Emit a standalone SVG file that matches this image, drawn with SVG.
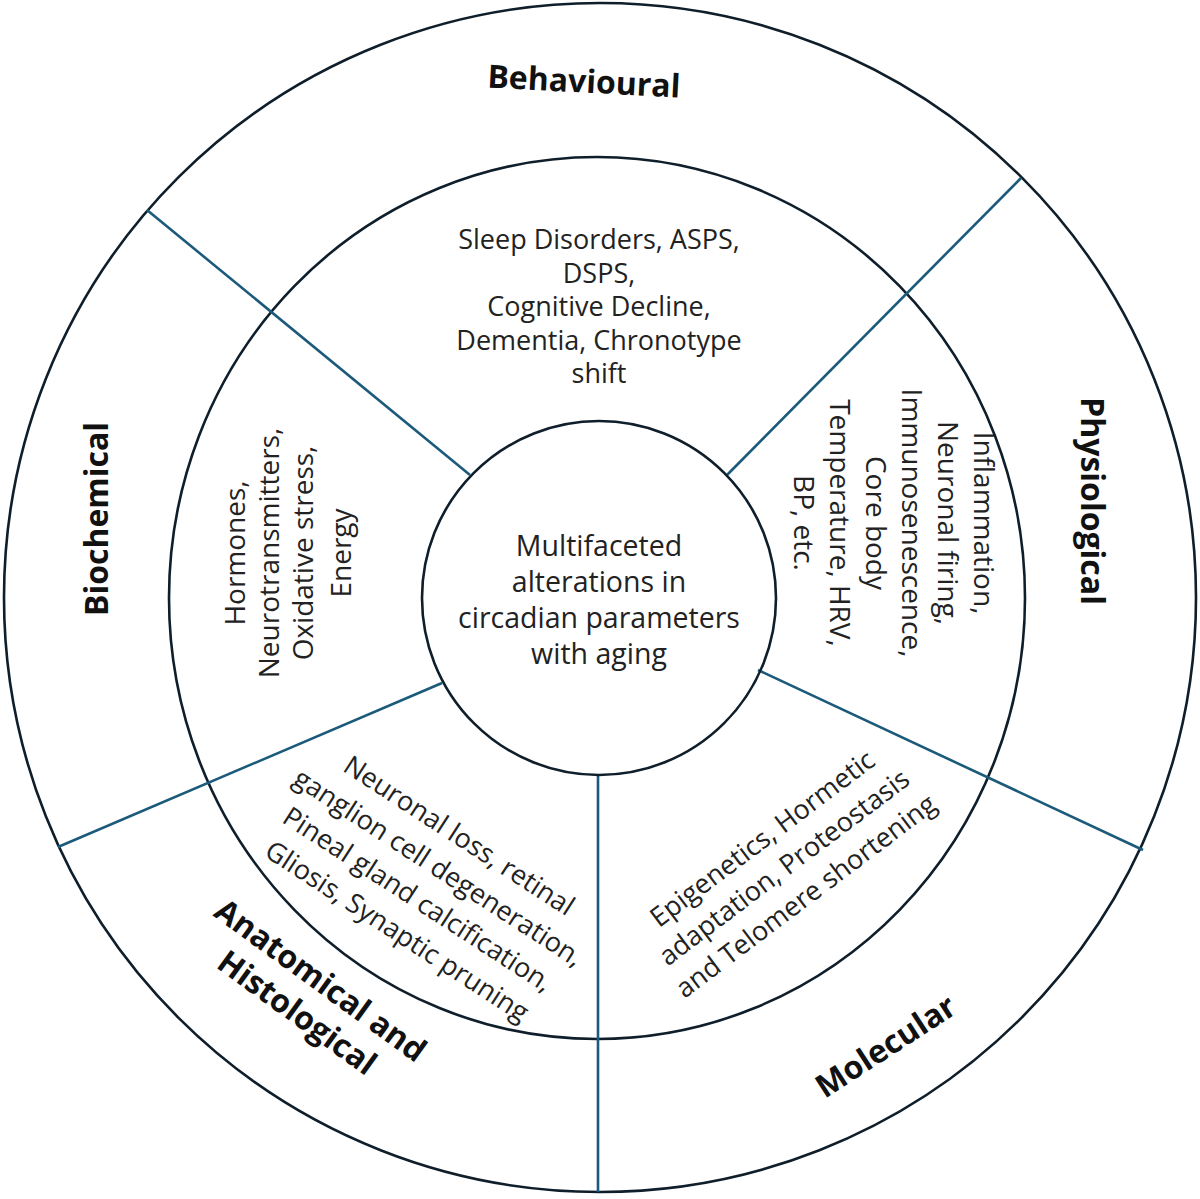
<svg xmlns="http://www.w3.org/2000/svg" width="1200" height="1199" viewBox="0 0 1200 1199">
<style>
.ring{fill:none;stroke:#0f1e2b;stroke-width:2.6}
.div{stroke:#1b5a7a;stroke-width:2.6;fill:none}
.lbl{font-family:"Open Sans","Liberation Sans",sans-serif;font-weight:bold;font-size:32px;fill:#111;text-anchor:middle;dominant-baseline:central}
.txt{font-family:"Open Sans","Liberation Sans",sans-serif;font-size:27px;fill:#222;text-anchor:middle;dominant-baseline:central}
.big{font-size:28px}
.ctr{font-family:"Open Sans","Liberation Sans",sans-serif;font-size:28.5px;fill:#222;text-anchor:middle;dominant-baseline:central}
</style>
<rect width="1200" height="1199" fill="#fff"/>
<g id="rings">
<ellipse class="ring" cx="600" cy="597.5" rx="596" ry="594.5"/>
<ellipse class="ring" cx="597" cy="598" rx="428" ry="441"/>
</g>
<g id="connectors">
<line class="div" x1="147" y1="210" x2="470" y2="475"/>
<line class="div" x1="1021" y1="178" x2="727" y2="475"/>
<line class="div" x1="1143" y1="850" x2="758" y2="670"/>
<line class="div" x1="598" y1="775" x2="598" y2="1192"/>
<line class="div" x1="58" y1="847" x2="442" y2="683"/>
</g>
<g id="center">
<circle class="ring" cx="599" cy="598" r="177" fill="#fff"/>
<text class="ctr"><tspan x="599" y="545">Multifaceted</tspan><tspan x="599" y="581">alterations in</tspan><tspan x="599" y="617">circadian parameters</tspan><tspan x="599" y="653">with aging</tspan></text>
</g>
<g id="behavioural">
<text class="lbl" transform="translate(584,80) rotate(3)">Behavioural</text>
<text class="txt"><tspan x="599" y="238">Sleep Disorders, ASPS,</tspan><tspan x="599" y="271.5">DSPS,</tspan><tspan x="599" y="305">Cognitive Decline,</tspan><tspan x="599" y="338.5">Dementia, Chronotype</tspan><tspan x="599" y="372">shift</tspan></text>
</g>
<g id="physiological">
<text class="lbl" transform="translate(1093,501) rotate(90)">Physiological</text>
<text class="txt big" transform="translate(895,523) rotate(90)"><tspan x="0" y="-90">Inflammation,</tspan><tspan x="0" y="-54">Neuronal firing,</tspan><tspan x="0" y="-18">Immunosenescence,</tspan><tspan x="0" y="18">Core body</tspan><tspan x="0" y="54">Temperature, HRV,</tspan><tspan x="0" y="90">BP, etc.</tspan></text>
</g>
<g id="molecular">
<text class="lbl" transform="translate(885,1045) rotate(-33)">Molecular</text>
<text class="txt" transform="translate(783,866) rotate(-37)"><tspan x="0" y="-36">Epigenetics, Hormetic</tspan><tspan x="0" y="0">adaptation, Proteostasis</tspan><tspan x="0" y="36">and Telomere shortening</tspan></text>
</g>
<g id="anatomical">
<text class="lbl" transform="translate(310,995) rotate(36)"><tspan x="0" y="-20">Anatomical and</tspan><tspan x="0" y="20">Histological</tspan></text>
<text class="txt" transform="translate(429,882) rotate(33)"><tspan x="0" y="-57">Neuronal  loss, retinal</tspan><tspan x="0" y="-19">ganglion cell degeneration,</tspan><tspan x="0" y="19">Pineal gland calcification,</tspan><tspan x="0" y="57">Gliosis, Synaptic pruning</tspan></text>
</g>
<g id="biochemical">
<text class="lbl" transform="translate(95,519) rotate(-90)">Biochemical</text>
<text class="txt big" transform="translate(288,553) rotate(-90)"><tspan x="0" y="-54">Hormones,</tspan><tspan x="0" y="-20">Neurotransmitters,</tspan><tspan x="0" y="14">Oxidative stress,</tspan><tspan x="0" y="52">Energy</tspan></text>
</g>
</svg>
